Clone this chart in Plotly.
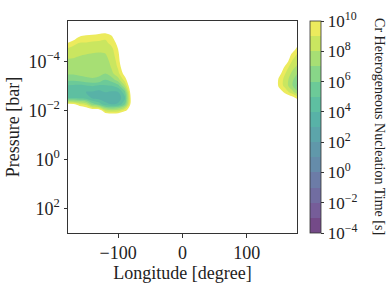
import numpy as np
import plotly.graph_objects as go
from plotly.colors import sample_colorscale, unlabel_rgb

# ---------------- data ----------------
longitude = [-180, -170, -160, -150, -140, -130, -120, -110, -100, -90, -80, -70,
             140, 150, 160, 170, 180]
log10_pressure = [-5.75, -5.5, -5.25, -5.0, -4.75, -4.5, -4.25, -4.0, -3.75,
                  -3.5, -3.25, -3.0, -2.75, -2.5, -2.25, -2.0, -1.75, -1.5]
# log10 of Cr heterogeneous nucleation time [s]; values above 10 = no nucleation shown
log10_time = [
    [12, 12, 12, 12, 12, 12, 12, 12, 12, 12, 12, 12, 12, 12, 12, 12, 12],
    [12, 12, 12, 12, 12, 12, 12, 12, 12, 12, 12, 12, 12, 12, 12, 12, 12],
    [12, 12, 12, 11, 11, 10.6, 10.6, 11, 12, 12, 12, 12, 12, 12, 12, 12, 12],
    [12, 11, 9.95, 9.7, 9.55, 9.5, 9.25, 9.8, 11.5, 12, 12, 12, 12, 12, 12, 12, 12],
    [10.1, 9.4, 9.0, 8.95, 8.85, 8.8, 8.75, 9.35, 10.4, 12, 12, 12, 12, 12, 12, 12, 10.4],
    [8.9, 8.6, 8.5, 8.4, 8.25, 8.2, 8.3, 8.75, 10.02, 12, 12, 12, 12, 12, 12, 11, 9.3],
    [8.3, 8.2, 8.05, 7.95, 7.9, 7.85, 7.9, 8.5, 9.7, 12, 12, 12, 12, 12, 12, 9.6, 8.7],
    [7.8, 7.8, 7.7, 7.65, 7.6, 7.55, 7.6, 8.3, 9.4, 12, 12, 12, 12, 12, 10.8, 9.0, 8.2],
    [7.5, 7.5, 7.45, 7.45, 7.4, 7.35, 7.35, 8.1, 9.15, 11.2, 12, 12, 12, 11.5, 9.6, 8.4, 7.6],
    [7.15, 7.15, 7.3, 7.25, 7.25, 7.15, 7.0, 7.75, 8.7, 10.5, 12, 12, 12, 10.5, 9.0, 7.8, 6.9],
    [6.2, 6.3, 6.5, 6.8, 6.9, 6.85, 6.0, 6.5, 7.6, 9.4, 11.5, 12, 12, 9.7, 8.6, 7.3, 6.0],
    [4.9, 4.8, 4.7, 4.9, 5.1, 4.8, 4.9, 5.0, 5.6, 7.9, 11.3, 12, 12, 9.7, 8.6, 7.2, 5.6],
    [4.4, 4.3, 4.2, 4.0, 3.9, 3.7, 4.05, 3.9, 4.0, 5.6, 10.8, 12, 12, 10.8, 9.6, 8.4, 7.0],
    [4.9, 5.0, 4.8, 4.6, 3.9, 3.6, 3.5, 3.2, 3.4, 4.7, 10.35, 12, 12, 12, 11.2, 10.6, 9.5],
    [10.3, 10.1, 9.2, 8.6, 6.5, 5.6, 4.3, 4.0, 4.2, 5.8, 10.5, 12, 12, 12, 12, 12, 11.5],
    [12, 12, 12, 11.5, 11, 11, 8.5, 8.0, 8.3, 9.6, 10.8, 12, 12, 12, 12, 12, 12],
    [12, 12, 12, 12, 12, 12, 12, 12, 12, 12, 12, 12, 12, 12, 12, 12, 12],
    [12, 12, 12, 12, 12, 12, 12, 12, 12, 12, 12, 12, 12, 12, 12, 12, 12],
]
level_min, level_max = -4, 10
cbar_tickvals = [-4, -2, 0, 2, 4, 6, 8, 10]
cbar_ticktext = ["10<sup>−4</sup>", "10<sup>−2</sup>", "10<sup>0</sup>", "10<sup>2</sup>",
                 "10<sup>4</sup>", "10<sup>6</sup>", "10<sup>8</sup>", "10<sup>10</sup>"]
y_tickvals = [-4, -2, 0, 2]
y_ticktext = ["10<sup>−4</sup>", "10<sup>−2</sup>", "10<sup>0</sup>", "10<sup>2</sup>"]
x_tickvals = [-100, 0, 100]
x_ticktext = ["−100", "0", "100"]

# ---------------- colours ----------------
ALPHA = 0.75
nb = level_max - level_min  # 14 bands


def band_color(i):
    r, g, b = unlabel_rgb(sample_colorscale("Viridis", [(i + 0.5) / nb])[0])
    r, g, b = [ALPHA * v + (1 - ALPHA) * 255 for v in (r, g, b)]
    return f"rgb({r:.0f},{g:.0f},{b:.0f})"


band_colors = [band_color(i) for i in range(nb)]  # from 1e-4 band up to 1e10 band

# contour colourscale (on negated values so that t>1e10 falls in transparent background)
ncs = nb + 1
contour_cs = [[0.0, "rgba(255,255,255,0)"]]
for k in range(1, nb + 1):
    contour_cs.append([k / ncs, band_colors[nb - k]])
contour_cs.append([1.0, band_colors[0]])

# discrete colourbar scale
bar_cs = []
for i, c in enumerate(band_colors):
    bar_cs.append([i / nb, c])
    bar_cs.append([(i + 1) / nb, c])

FONT = "Liberation Serif"
TXT = "#222222"

fig = go.Figure()
fig.add_trace(go.Contour(
    x=longitude, y=log10_pressure, z=-np.array(log10_time, dtype=float),
    autocontour=False,
    contours=dict(start=-level_max, end=-level_min, size=1, coloring="fill", showlines=False),
    colorscale=contour_cs, showscale=False,
    line=dict(width=0, smoothing=1),
    hoverinfo="skip",
))
fig.add_trace(go.Scatter(
    x=[None], y=[None], mode="markers", showlegend=False, hoverinfo="skip",
    marker=dict(color=[level_min], cmin=level_min, cmax=level_max, colorscale=bar_cs,
                showscale=True,
                colorbar=dict(
                    x=1.057, xanchor="left", xpad=0, y=0.5, yanchor="middle", ypad=0,
                    len=1, lenmode="fraction", thickness=11,
                    outlinewidth=0.8, outlinecolor="#333",
                    tickmode="array", tickvals=cbar_tickvals, ticktext=cbar_ticktext,
                    ticks="outside", ticklen=3.5, tickwidth=0.8, tickcolor="#333",
                    tickfont=dict(family=FONT, size=17, color=TXT),
                )),
))

fig.add_annotation(
    text="Cr Heterogeneous Nucleation Time [s]", textangle=90,
    xref="paper", yref="paper", x=1.362, y=0.5, xanchor="center", yanchor="middle",
    showarrow=False, font=dict(family=FONT, size=14, color=TXT),
)

axis_common = dict(
    ticks="outside", ticklen=3.5, tickwidth=0.8, tickcolor="#333",
    showline=True, linecolor="#333", linewidth=1, mirror=True,
    showgrid=False, zeroline=False, automargin=False, tickfont=dict(size=18),
)

fig.update_layout(
    width=391, height=284,
    margin=dict(l=68, r=94, t=21, b=51, autoexpand=False),
    paper_bgcolor="white", plot_bgcolor="white",
    font=dict(family=FONT, size=18, color=TXT),
    xaxis=dict(range=[-178, 178], tickmode="array", tickvals=x_tickvals, ticktext=x_ticktext,
               title=dict(text="Longitude [degree]", standoff=4, font=dict(size=18)),
               **axis_common),
    yaxis=dict(range=[3, -5.64], tickmode="array", tickvals=y_tickvals, ticktext=y_ticktext,
               title=dict(text="Pressure [bar]", standoff=4, font=dict(size=18)),
               **axis_common),
)

fig.write_html(
    "out.html",
    config={"displayModeBar": False},
    post_script="document.body.style.margin='0';document.body.style.overflow='hidden';",
)
